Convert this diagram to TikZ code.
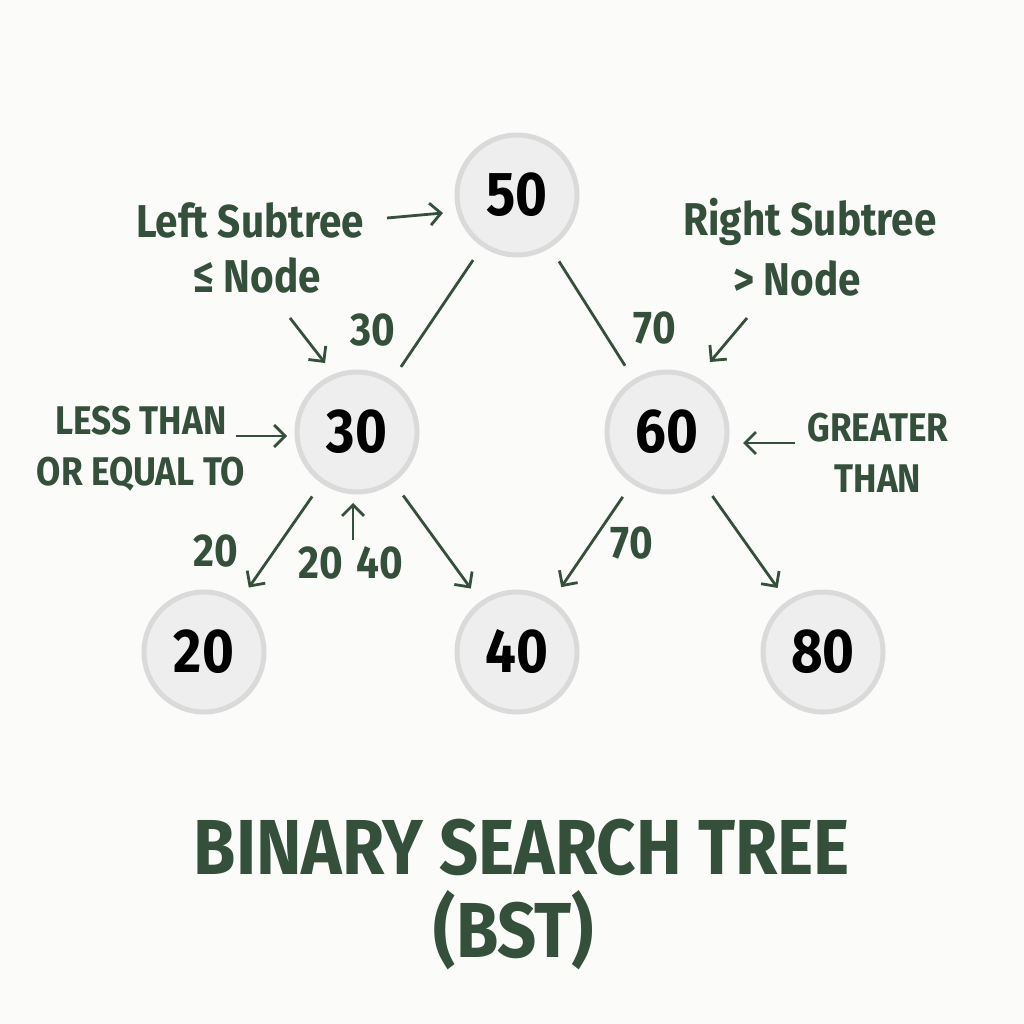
\documentclass[tikz,border=0pt]{standalone}
\usepackage{fontspec}
\setmainfont{Fira Sans}[FakeStretch=0.88]
\usetikzlibrary{arrows.meta}
\definecolor{ink}{HTML}{34503A}
\definecolor{nodefill}{HTML}{EEEEEE}
\definecolor{nodeline}{HTML}{DADADA}
\definecolor{bg}{HTML}{FBFBFA}
\tikzset{
  bstnode/.style={circle, minimum size=120pt, inner sep=0pt, fill=nodefill, draw=nodeline, line width=5pt, text=black, font=\fontsize{62}{62}\selectfont\bfseries},
  edge/.style={draw=ink, line width=2.8pt, shorten <=16pt, shorten >=16pt},
  arr/.style={edge, -{Straight Barb[length=11pt,width=22pt,line width=2.8pt]}},
  note/.style={draw=ink, line width=2.8pt, -{Straight Barb[length=11pt,width=22pt,line width=2.8pt]}},
  lbl/.style={text=ink, align=center, inner sep=0pt, font=\fontsize{46}{56}\selectfont\bfseries},
  caps/.style={text=ink, align=center, inner sep=0pt, font=\fontsize{40}{51}\selectfont\bfseries},
  title/.style={text=ink, align=center, inner sep=0pt, font=\fontsize{78}{84}\selectfont\bfseries}
}
\begin{document}
\begin{tikzpicture}[x=1pt,y=-1pt]
\useasboundingbox (0,0) rectangle (1024,1024);
\fill[bg] (0,0) rectangle (1024,1024);
% tree nodes
\node[bstnode] (n50) at (517,195) {50};
\node[bstnode] (n30) at (357,432) {30};
\node[bstnode] (n60) at (667,432) {60};
\node[bstnode] (n20) at (204,652) {20};
\node[bstnode] (n40) at (517,652) {40};
\node[bstnode] (n80) at (823,652) {80};
% connectors
\draw[edge] (n50) -- (n30);
\draw[edge] (n50) -- (n60);
\draw[arr] (n30) -- (n20);
\draw[arr] (n30) -- (n40);
\draw[arr] (n60) -- (n40);
\draw[arr] (n60) -- (n80);
% edge labels
\node[lbl] (l30) at (373,330) {30};
\node[lbl] (l70a) at (655,328) {70};
\node[lbl] (l20) at (216,551) {20};
\node[lbl] (l2040) at (351,563) {20\hspace{14pt}40};
\node[lbl] (l70b) at (632,543) {70};
% annotations
\node[lbl] (lsub) at (250,220) {Left Subtree};
\node[lbl] (lnode) at (257,275) {≤ Node};
\node[lbl] (rsub) at (810,222) {Right Subtree};
\node[lbl] (rnode) at (797,278) {> Node};
\node[caps] (less) at (141,449) {LESS THAN\\OR EQUAL TO};
\node[caps] (great) at (878,453) {GREATER\\THAN};
% annotation arrows
\coordinate (a1s) at (387,218); \coordinate (a1e) at (443,213);
\coordinate (a2s) at (290,318); \coordinate (a2e) at (325,363);
\coordinate (a3s) at (747,318); \coordinate (a3e) at (710,362);
\coordinate (a4s) at (236,436); \coordinate (a4e) at (287,436);
\coordinate (a5s) at (795,443); \coordinate (a5e) at (743,443);
\coordinate (a6s) at (353,540); \coordinate (a6e) at (353,503);
\draw[note] (a1s) -- (a1e);
\draw[note] (a2s) -- (a2e);
\draw[note] (a3s) -- (a3e);
\draw[note] (a4s) -- (a4e);
\draw[note] (a5s) -- (a5e);
\draw[note, line width=2pt] (a6s) -- (a6e);
% title
\node[title] (t1) at (522,847) {BINARY SEARCH TREE};
\node[title] (t2) at (514,930) {(BST)};
\end{tikzpicture}
\end{document}
